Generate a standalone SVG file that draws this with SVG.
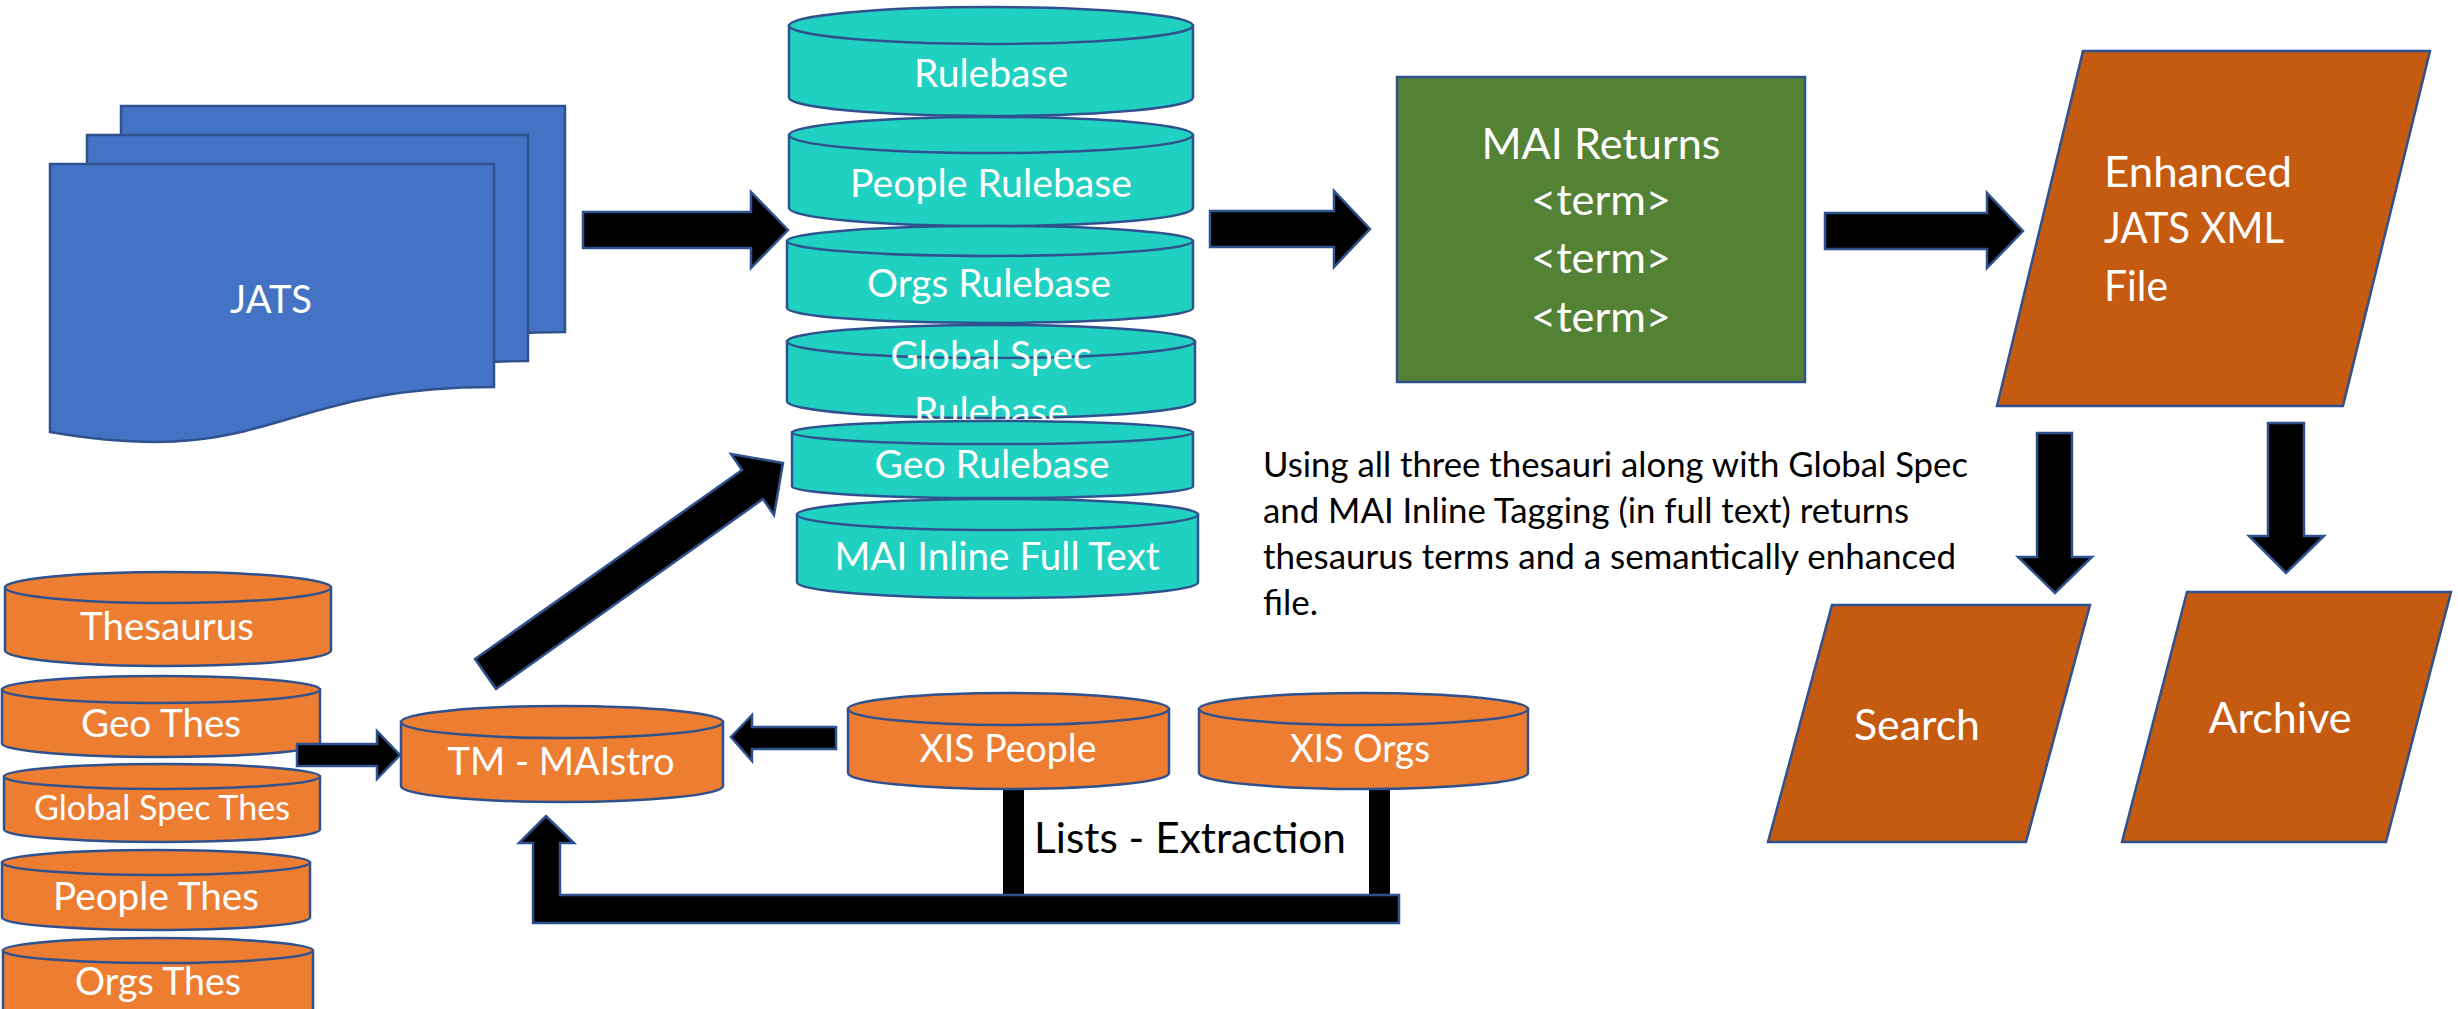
<svg xmlns="http://www.w3.org/2000/svg" width="2458" height="1009" viewBox="0 0 2458 1009">
<style>
.st{stroke:#2F528F;stroke-width:2.5;stroke-linejoin:miter}
.blue{fill:#4472C4}
.teal{fill:#20D0C0}
.org{fill:#ED7D31}
.rust{fill:#C55A11}
.green{fill:#548235}
.arr{fill:#000000;stroke:#2F528F;stroke-width:2.5}
.bar{fill:#000000}
text{font-family:Lato,"Open Sans","Liberation Sans",sans-serif}
.w{fill:#FFFFFF}
.k{fill:#000000}
.c{text-anchor:middle}
.f38{font-size:38px}
.f42{font-size:42px}
.f34{font-size:34px}
</style>
<rect width="2458" height="1009" fill="#FFFFFF"/>

<g id="jats">
<path class="st blue" d="M121,106 H565 V332 C343,332 343,415 121,377 Z"/>
<path class="st blue" d="M87,135 H528 V361 C307,361 307,444 87,406 Z"/>
<path class="st blue" d="M50,164 H494 V387 C272,387 272,470 50,432 Z"/>
<text class="w c f38" x="271" y="313" textLength="82" lengthAdjust="spacingAndGlyphs">JATS</text>
</g>

<g id="rulebase">
<path class="st teal" d="M789,25.5 V97.5 A202,18.5 0 0 0 1193,97.5 V25.5 Z"/>
<ellipse class="st teal" cx="991" cy="25.5" rx="202" ry="18.5"/>
<text class="w c f38" x="991" y="87" textLength="154" lengthAdjust="spacingAndGlyphs">Rulebase</text>
</g>
<g id="people-rulebase">
<path class="st teal" d="M789,135 V208 A202,18 0 0 0 1193,208 V135 Z"/>
<ellipse class="st teal" cx="991" cy="135" rx="202" ry="18"/>
<text class="w c f38" x="991" y="197" textLength="282" lengthAdjust="spacingAndGlyphs">People Rulebase</text>
</g>
<g id="orgs-rulebase">
<path class="st teal" d="M787,241 V308 A203,15 0 0 0 1193,308 V241 Z"/>
<ellipse class="st teal" cx="990" cy="241" rx="203" ry="15"/>
<text class="w c f38" x="989" y="297" textLength="244" lengthAdjust="spacingAndGlyphs">Orgs Rulebase</text>
</g>
<g id="globalspec-rulebase">
<path class="st teal" d="M787,341.5 V401.5 A204,16.5 0 0 0 1195,401.5 V341.5 Z"/>
<ellipse class="st teal" cx="991" cy="341.5" rx="204" ry="16.5"/>
<text class="w c f38" x="991" y="369" textLength="201" lengthAdjust="spacingAndGlyphs">Global Spec</text>
<text class="w c f38" x="991" y="425" textLength="154" lengthAdjust="spacingAndGlyphs">Rulebase</text>
</g>
<g id="geo-rulebase">
<path class="st teal" d="M792,432.5 V486.5 A200.5,11.5 0 0 0 1193,486.5 V432.5 Z"/>
<ellipse class="st teal" cx="992.5" cy="432.5" rx="200.5" ry="11.5"/>
<text class="w c f38" x="992" y="478" textLength="235" lengthAdjust="spacingAndGlyphs">Geo Rulebase</text>
</g>
<g id="mai-inline">
<path class="st teal" d="M797,514.5 V582.5 A200.5,15.5 0 0 0 1198,582.5 V514.5 Z"/>
<ellipse class="st teal" cx="997.5" cy="514.5" rx="200.5" ry="15.5"/>
<text class="w c f38" x="997" y="570" textLength="325" lengthAdjust="spacingAndGlyphs">MAI Inline Full Text</text>
</g>

<g id="mai-returns">
<rect class="st green" x="1397" y="77" width="408" height="305"/>
<text class="w c f42" x="1601" y="159" textLength="239" lengthAdjust="spacingAndGlyphs">MAI Returns</text>
<text class="w c f42" x="1601" y="215" textLength="140" lengthAdjust="spacingAndGlyphs">&lt;term&gt;</text>
<text class="w c f42" x="1601" y="273" textLength="140" lengthAdjust="spacingAndGlyphs">&lt;term&gt;</text>
<text class="w c f42" x="1601" y="332" textLength="140" lengthAdjust="spacingAndGlyphs">&lt;term&gt;</text>
</g>

<g id="enhanced">
<path class="st rust" d="M2083,51 H2430 L2343,406 H1997 Z"/>
<text class="w f42" x="2104" y="187" textLength="188" lengthAdjust="spacingAndGlyphs">Enhanced</text>
<text class="w f42" x="2104" y="243" textLength="180" lengthAdjust="spacingAndGlyphs">JATS XML</text>
<text class="w f42" x="2104" y="301" textLength="64" lengthAdjust="spacingAndGlyphs">File</text>
</g>

<g id="search">
<path class="st rust" d="M1832,605 H2090 L2026,842 H1768 Z"/>
<text class="w c f42" x="1917" y="740" textLength="126" lengthAdjust="spacingAndGlyphs">Search</text>
</g>
<g id="archive">
<path class="st rust" d="M2187,592 H2451 L2386,842 H2122 Z"/>
<text class="w c f42" x="2280" y="733" textLength="143" lengthAdjust="spacingAndGlyphs">Archive</text>
</g>

<g id="description">
<text class="k f34" x="1263" y="477" textLength="705" lengthAdjust="spacingAndGlyphs">Using all three thesauri along with Global Spec</text>
<text class="k f34" x="1263" y="523" textLength="646" lengthAdjust="spacingAndGlyphs">and MAI Inline Tagging (in full text) returns</text>
<text class="k f34" x="1263" y="569" textLength="693" lengthAdjust="spacingAndGlyphs">thesaurus terms and a semantically enhanced</text>
<text class="k f34" x="1263" y="615" textLength="55" lengthAdjust="spacingAndGlyphs">file.</text>
</g>

<g id="thesaurus">
<path class="st org" d="M5,587.5 V650.5 A163,15.5 0 0 0 331,650.5 V587.5 Z"/>
<ellipse class="st org" cx="168" cy="587.5" rx="163" ry="15.5"/>
<text class="w c f38" x="167" y="640" textLength="174" lengthAdjust="spacingAndGlyphs">Thesaurus</text>
</g>
<g id="geo-thes">
<path class="st org" d="M2,689.5 V743.5 A159,13.5 0 0 0 320,743.5 V689.5 Z"/>
<ellipse class="st org" cx="161" cy="689.5" rx="159" ry="13.5"/>
<text class="w c f38" x="161" y="737" textLength="160" lengthAdjust="spacingAndGlyphs">Geo Thes</text>
</g>
<g id="globalspec-thes">
<path class="st org" d="M4,776.5 V829.5 A158,12.5 0 0 0 320,829.5 V776.5 Z"/>
<ellipse class="st org" cx="162" cy="776.5" rx="158" ry="12.5"/>
<text class="w c f34" x="162" y="820" textLength="256" lengthAdjust="spacingAndGlyphs">Global Spec Thes</text>
</g>
<g id="people-thes">
<path class="st org" d="M2,862.5 V917.5 A154,12.5 0 0 0 310,917.5 V862.5 Z"/>
<ellipse class="st org" cx="156" cy="862.5" rx="154" ry="12.5"/>
<text class="w c f38" x="156" y="910" textLength="206" lengthAdjust="spacingAndGlyphs">People Thes</text>
</g>
<g id="orgs-thes">
<path class="st org" d="M3,950.5 V1012 A155,12.5 0 0 0 313,1012 V950.5 Z"/>
<ellipse class="st org" cx="158" cy="950.5" rx="155" ry="12.5"/>
<text class="w c f38" x="158" y="995" textLength="166" lengthAdjust="spacingAndGlyphs">Orgs Thes</text>
</g>

<g id="connectors">
<polygon class="arr" points="583,212 751,212 751,192 788,230 751,268 751,248 583,248"/>
<polygon class="arr" points="1210,211 1334,211 1334,191 1370,229 1334,267 1334,247 1210,247"/>
<polygon class="arr" points="1825,213 1987,213 1987,193 2023,231 1987,268 1987,249 1825,249"/>
<polygon class="arr" points="2037,433 2072,433 2072,557 2092,557 2055,593 2018,557 2037,557"/>
<polygon class="arr" points="2268,423 2304,423 2304,536 2324,536 2286,573 2249,536 2268,536"/>
<polygon class="arr" points="475,659 742,470 731,454 783,463 774,515 763,499 496,689"/>
<polygon class="arr" points="297,744 377,744 377,731 400,755 377,779 377,766 297,766"/>
<polygon class="arr" points="836,727 752,727 752,715 731,737 752,761 752,749 836,749"/>
<rect class="bar" x="1003" y="785" width="21" height="112"/>
<rect class="bar" x="1369" y="785" width="21" height="112"/>
<polygon class="arr" points="533,923 533,843 519,843 546,816 574,843 560,843 560,895 1399,895 1399,923"/>
</g>

<g id="tm-maistro">
<path class="st org" d="M401,722 V786 A161,16 0 0 0 723,786 V722 Z"/>
<ellipse class="st org" cx="562" cy="722" rx="161" ry="16"/>
<text class="w c f38" x="561" y="775" textLength="227" lengthAdjust="spacingAndGlyphs">TM - MAIstro</text>
</g>
<g id="xis-people">
<path class="st org" d="M848,709 V773 A160.5,16 0 0 0 1169,773 V709 Z"/>
<ellipse class="st org" cx="1008.5" cy="709" rx="160.5" ry="16"/>
<text class="w c f38" x="1008" y="762" textLength="177" lengthAdjust="spacingAndGlyphs">XIS People</text>
</g>
<g id="xis-orgs">
<path class="st org" d="M1199,709 V773 A164.5,16 0 0 0 1528,773 V709 Z"/>
<ellipse class="st org" cx="1363.5" cy="709" rx="164.5" ry="16"/>
<text class="w c f38" x="1360" y="762" textLength="140" lengthAdjust="spacingAndGlyphs">XIS Orgs</text>
</g>

<g id="lists-extraction">
<text class="k f42" x="1034" y="853" textLength="312" lengthAdjust="spacingAndGlyphs">Lists - Extraction</text>
</g>
</svg>
